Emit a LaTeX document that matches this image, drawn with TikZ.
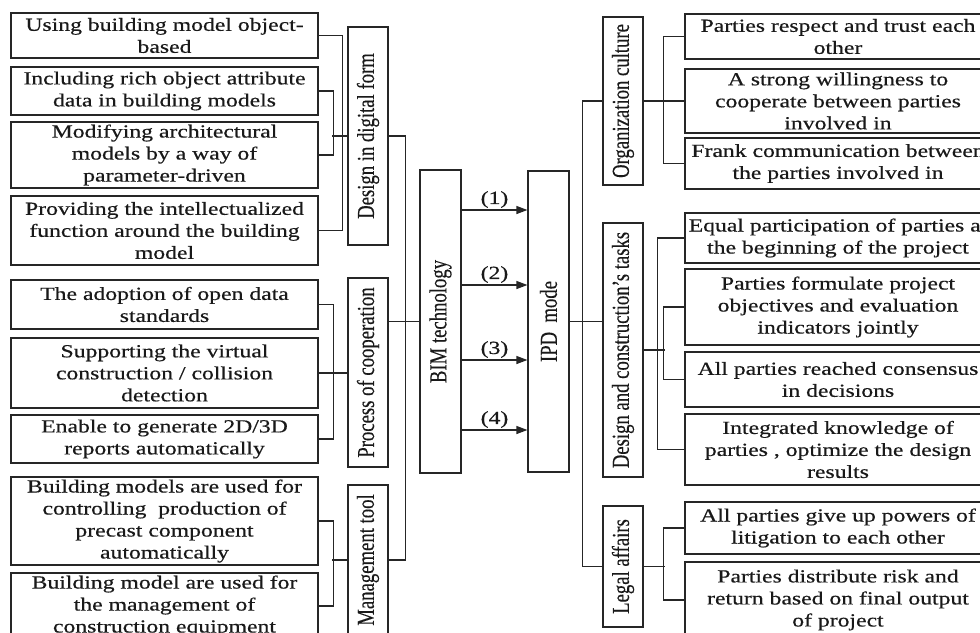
\documentclass[tikz,border=0pt]{standalone}
\usepackage{fontspec}
\usepackage{graphicx}
\setmainfont{Liberation Serif}[FakeBold=0.35]
\newfontfamily\widefam[FakeStretch=1.28,FakeBold=0.45]{Liberation Serif}
\usetikzlibrary{arrows.meta}

% fonts for the box texts
\newcommand\boxfont{\widefam\fontsize{18.5pt}{22pt}\selectfont}
\newcommand\sidefont{\rmfamily\fontsize{18.7pt}{22pt}\selectfont}
% vertical label, read from bottom to top
\newcommand\vlabel[1]{\rotatebox{90}{\scalebox{1}[1.3]{#1}}}

\tikzset{
  conn/.style={draw=black!85, line width=1.2pt},
  hbox/.style={draw=black!85, line width=1.2pt, minimum width=307pt,
    align=center, inner sep=0pt, font=\boxfont, text=black!90},
  vbox/.style={draw=black!85, line width=1.2pt, minimum width=40pt,
    inner sep=0pt, font=\sidefont, text=black!90},
  arr/.style={conn, -{Triangle[length=11pt,width=8pt]}},
  numlabel/.style={font=\boxfont, inner sep=1.5pt, text=black!90},
}

\begin{document}
\begin{tikzpicture}[x=1pt, y=-1pt]
\useasboundingbox (0,0) rectangle (980,632);
\fill[white] (0,0) rectangle (980,632);
\clip (0,0) rectangle (980,632);

% ---- BIM side: detail boxes
\node[hbox, minimum height=45pt] (L1) at (164.5,35.5) {Using building model object-\\based};
\node[hbox, minimum height=48pt] (L2) at (164.5,91) {Including rich object attribute\\data in building models};
\node[hbox, minimum height=66pt] (L3) at (164.5,155) {Modifying architectural\\models by a way of\\parameter-driven};
\node[hbox, minimum height=69pt] (L4) at (164.5,230.5) {Providing the intellectualized\\function around the building\\model};
\node[hbox, minimum height=49pt] (L5) at (164.5,304.5) {The adoption of open data\\standards};
\node[hbox, minimum height=70pt] (L6) at (164.5,373) {Supporting the virtual\\construction / collision\\detection};
\node[hbox, minimum height=48pt] (L7) at (164.5,439) {Enable to generate 2D/3D\\reports automatically};
\node[hbox, minimum height=88pt] (L8) at (164.5,521) {Building models are used for\\controlling~ production of\\precast component\\automatically};
\node[hbox, minimum height=66pt] (L9) at (164.5,606) {Building model are used for\\the management of\\construction equipment};

% ---- BIM side: categories
\node[vbox, minimum height=218pt] (DDF) at (368,136) {\vlabel{Design in digital form}};
\node[vbox, minimum height=189pt] (PoC) at (368,372.5) {\vlabel{Process of cooperation}};
\node[vbox, minimum height=150pt] (MT) at (368,560) {\vlabel{Management tool}};

% ---- central pair
\node[vbox, minimum width=41pt, minimum height=303pt] (BIM) at (440.5,321.5) {\vlabel{BIM technology}};
\node[vbox, minimum width=41pt, minimum height=301pt] (IPD) at (548.5,321.5) {\vlabel{IPD~ mode}};

% ---- IPD side: categories
\node[vbox, minimum height=168pt] (OC) at (623,101) {\vlabel{Organization culture}};
\node[vbox, minimum height=254pt] (DCT) at (623,350) {\vlabel{Design and construction’s tasks}};
\node[vbox, minimum height=121pt] (LA) at (623,566.5) {\vlabel{Legal affairs}};

% ---- IPD side: detail boxes
\node[hbox, minimum width=306pt, minimum height=45pt] (R1) at (838,36.5) {Parties respect and trust each\\other};
\node[hbox, minimum width=306pt, minimum height=64pt] (R2) at (838,101) {A strong willingness to\\cooperate between parties\\involved in};
\node[hbox, minimum width=306pt, minimum height=51pt] (R3) at (838,163.5) {Frank communication between\\the parties involved in};
\node[hbox, minimum width=306pt, minimum height=50pt] (R4) at (838,238) {Equal participation of parties at\\the beginning of the project};
\node[hbox, minimum width=306pt, minimum height=76pt] (R5) at (838,307) {Parties formulate project\\objectives and evaluation\\indicators jointly};
\node[hbox, minimum width=306pt, minimum height=55pt] (R6) at (838,379.5) {All parties reached consensus\\in decisions};
\node[hbox, minimum width=306pt, minimum height=71pt] (R7) at (838,449.5) {Integrated knowledge of\\parties , optimize the design\\results};
\node[hbox, minimum width=306pt, minimum height=52pt] (R8) at (838,528) {All parties give up powers of\\litigation to each other};
\node[hbox, minimum width=306pt, minimum height=76pt] (R9) at (838,600) {Parties distribute risk and\\return based on final output\\of project};

% ---- brackets on the BIM side
\draw[conn] (L1.east) -| ([xshift=24pt]L4.east) -- (L4.east);
\draw[conn] (L2.east) -| ([xshift=15pt]L3.east) -- (L3.east);
\draw[conn] (DDF.west) -- ++(-15,0);
\draw[conn] (L5.east) -| ([xshift=15pt]L7.east) -- (L7.east);
\draw[conn] (L6.east) -- (PoC.west |- L6.east);
\draw[conn] (L8.east) -| ([xshift=15pt]L9.east) -- (L9.east);
\draw[conn] (MT.west) -- ++(-15,0);

% ---- categories into BIM technology
\draw[conn] (DDF.east) -| ([xshift=17pt]MT.east) -- (MT.east);
\draw[conn] (BIM.west) -- (BIM.west -| PoC.east);

% ---- BIM technology to IPD mode
\draw[arr] ([yshift=111.5pt]BIM.east) -- node[numlabel, above] {(1)} ([yshift=111.5pt]IPD.west);
\draw[arr] ([yshift=36.5pt]BIM.east) -- node[numlabel, above] {(2)} ([yshift=36.5pt]IPD.west);
\draw[arr] ([yshift=-38.5pt]BIM.east) -- node[numlabel, above] {(3)} ([yshift=-38.5pt]IPD.west);
\draw[arr] ([yshift=-108.5pt]BIM.east) -- node[numlabel, above] {(4)} ([yshift=-108.5pt]IPD.west);

% ---- IPD mode into its categories
\draw[conn] (IPD.east) -- (IPD.east -| DCT.west);
\draw[conn] (OC.west) -| ([xshift=-20pt]LA.west) -- (LA.west);

% ---- brackets on the IPD side
\draw[conn] (OC.east) -- (R2.west);
\draw[conn] (R1.west) -| ([xshift=-21pt]R3.west) -- (R3.west);
\draw[conn] (DCT.east) -- ++(21,0);
\draw[conn] (R4.west) -| ([xshift=-27pt]R7.west) -- (R7.west);
\draw[conn] (R5.west) -| ([xshift=-21pt]R6.west) -- (R6.west);
\draw[conn] (LA.east) -- ++(21,0);
\draw[conn] (R8.west) -| ([xshift=-21pt]R9.west) -- (R9.west);
\end{tikzpicture}
\end{document}
